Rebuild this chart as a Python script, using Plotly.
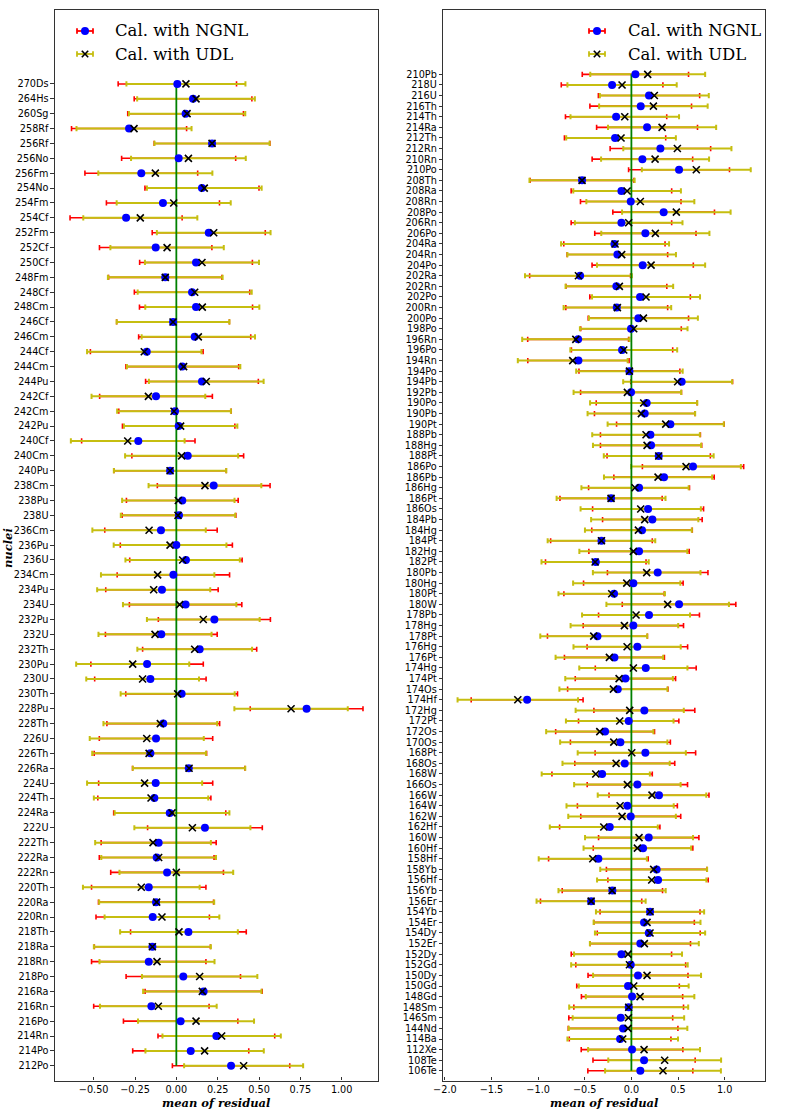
import plotly.graph_objects as go

# ---------------- data: left panel (top -> bottom) ----------------
nuclei_left = ["270Ds","264Hs","260Sg","258Rf","256Rf","256No","256Fm","254No","254Fm","254Cf","252Fm","252Cf","250Cf","248Fm",
               "248Cf","248Cm","246Cf","246Cm","244Cf","244Cm","244Pu","242Cf","242Cm","242Pu","240Cf","240Cm","240Pu","238Cm","238Pu","238U","236Cm","236Pu",
               "236U","234Cm","234Pu","234U","232Pu","232U","232Th","230Pu","230U","230Th","228Pu","228Th","226U","226Th","226Ra","224U","224Th","224Ra",
               "222U","222Th","222Ra","222Rn","220Th","220Ra","220Rn","218Th","218Ra","218Rn","218Po","216Ra","216Rn","216Po","214Rn","214Po","212Po"]
ngnl_mean_left = [0.006,0.101,0.056,-0.286,0.216,0.014,-0.212,0.155,-0.081,-0.304,0.196,-0.125,0.119,-0.067,
                  0.095,0.119,-0.020,0.111,-0.179,0.036,0.155,-0.123,-0.008,0.014,-0.230,0.069,-0.038,0.226,0.036,0.016,-0.093,0.000,
                  0.058,-0.018,-0.087,0.056,0.230,-0.091,0.141,-0.177,-0.157,0.032,0.788,-0.079,-0.123,-0.157,0.075,-0.125,-0.133,-0.040,
                  0.173,-0.107,-0.119,-0.056,-0.167,-0.123,-0.143,0.073,-0.145,-0.167,0.042,0.165,-0.151,0.026,0.242,0.087,0.331]
ngnl_err_left = [0.358,0.356,0.350,0.348,0.350,0.345,0.341,0.345,0.342,0.339,0.342,0.340,0.341,0.343,
                 0.349,0.342,0.341,0.339,0.341,0.341,0.341,0.341,0.340,0.340,0.343,0.338,0.340,0.341,0.338,0.344,0.340,0.339,
                 0.340,0.340,0.340,0.340,0.339,0.338,0.345,0.340,0.337,0.338,0.341,0.341,0.343,0.340,0.340,0.345,0.342,0.339,
                 0.347,0.348,0.347,0.341,0.346,0.348,0.343,0.350,0.351,0.346,0.346,0.354,0.349,0.346,0.353,0.351,0.355]
udl_mean_left = [0.058,0.119,0.065,-0.256,0.216,0.073,-0.127,0.169,-0.016,-0.218,0.226,-0.056,0.155,-0.067,
                 0.111,0.157,-0.020,0.133,-0.194,0.044,0.181,-0.169,-0.014,0.026,-0.294,0.032,-0.038,0.173,0.012,0.010,-0.165,-0.038,
                 0.038,-0.113,-0.137,0.020,0.163,-0.129,0.111,-0.264,-0.204,0.008,0.694,-0.097,-0.179,-0.165,0.077,-0.192,-0.153,-0.026,
                 0.097,-0.141,-0.107,0.000,-0.212,-0.119,-0.087,0.016,-0.145,-0.117,0.141,0.157,-0.109,0.119,0.274,0.171,0.407]
udl_err_left = [0.360,0.356,0.352,0.348,0.348,0.347,0.345,0.347,0.345,0.345,0.344,0.343,0.345,0.347,
                0.345,0.345,0.341,0.343,0.346,0.343,0.347,0.344,0.344,0.343,0.344,0.342,0.340,0.341,0.340,0.346,0.343,0.341,
                0.346,0.343,0.342,0.343,0.341,0.342,0.347,0.342,0.341,0.345,0.343,0.344,0.345,0.344,0.340,0.348,0.346,0.347,
                0.351,0.350,0.347,0.344,0.353,0.348,0.347,0.356,0.354,0.348,0.349,0.358,0.353,0.351,0.358,0.358,0.360]

# ---------------- data: right panel (top -> bottom) ----------------
nuclei_right = ["210Pb","218U","216U","216Th","214Th","214Ra","212Th","212Rn","210Rn","210Po","208Th","208Ra","208Rn","208Po",
                "206Rn","206Po","204Ra","204Rn","204Po","202Ra","202Rn","202Po","200Rn","200Po","198Po","196Rn","196Po","194Rn","194Po","194Pb",
                "192Pb","190Po","190Pb","190Pt","188Pb","188Hg","188Pt","186Po","186Pb","186Hg","186Pt","186Os","184Pb","184Hg","184Pt","182Hg",
                "182Pt","180Pb","180Hg","180Pt","180W","178Pb","178Hg","178Pt","176Hg","176Pt","174Hg","174Pt","174Os","174Hf","172Hg","172Pt",
                "172Os","170Os","168Pt","168Os","168W","166Os","166W","164W","162W","162Hf","160W","160Hf","158Hf","158Yb","156Hf","156Yb",
                "156Er","154Yb","154Er","154Dy","152Er","152Dy","152Gd","150Dy","150Gd","148Gd","148Sm","146Sm","144Nd","114Ba","112Xe","108Te","106Te"]
ngnl_mean_right = [0.043,-0.207,0.189,0.100,-0.164,0.168,-0.175,0.311,0.118,0.511,-0.529,-0.107,-0.007,0.346,
                   -0.107,0.150,-0.182,-0.150,0.121,-0.550,-0.161,0.093,-0.157,0.075,-0.004,-0.571,-0.100,-0.568,-0.021,0.539,
                   -0.004,0.164,0.143,0.418,0.204,0.211,0.293,0.661,0.350,0.082,-0.218,0.179,0.225,0.114,-0.321,0.082,
                   -0.382,0.282,0.021,-0.186,0.511,0.189,0.021,-0.364,0.064,-0.182,0.154,-0.064,-0.146,-1.118,0.139,-0.029,
                   -0.282,-0.118,0.150,-0.071,-0.314,0.064,0.296,-0.043,-0.007,-0.232,0.186,0.125,-0.354,0.271,0.286,-0.204,
                   -0.432,0.200,0.136,0.186,0.096,-0.107,-0.007,0.071,-0.036,0.007,-0.029,-0.114,-0.089,-0.121,0.007,0.136,0.096]
ngnl_err_right = [0.570,0.545,0.543,0.545,0.543,0.541,0.543,0.539,0.539,0.541,0.557,0.539,0.539,0.545,
                  0.539,0.543,0.543,0.539,0.543,0.541,0.541,0.539,0.546,0.538,0.539,0.541,0.543,0.543,0.541,0.546,
                  0.541,0.541,0.539,0.577,0.536,0.543,0.554,0.543,0.538,0.541,0.548,0.595,0.534,0.539,0.545,0.538,
                  0.539,0.539,0.534,0.538,0.609,0.541,0.538,0.536,0.539,0.536,0.541,0.538,0.538,0.600,0.541,0.538,
                  0.530,0.536,0.539,0.536,0.538,0.538,0.536,0.536,0.536,0.538,0.538,0.534,0.534,0.539,0.538,0.538,
                  0.543,0.536,0.539,0.552,0.538,0.538,0.589,0.536,0.550,0.543,0.588,0.557,0.588,0.545,0.545,0.548,0.563]
udl_mean_right = [0.175,-0.100,0.246,0.236,-0.071,0.329,-0.111,0.493,0.254,0.696,-0.529,-0.046,0.096,0.482,
                  -0.029,0.257,-0.175,-0.104,0.211,-0.568,-0.129,0.157,-0.150,0.129,0.025,-0.596,-0.082,-0.629,-0.021,0.496,
                  -0.043,0.132,0.107,0.368,0.157,0.168,0.293,0.586,0.286,0.039,-0.218,0.100,0.143,0.075,-0.321,0.021,
                  -0.389,0.164,-0.050,-0.211,0.389,0.050,-0.075,-0.404,-0.046,-0.236,0.021,-0.132,-0.193,-1.218,-0.018,-0.125,
                  -0.339,-0.189,0.004,-0.164,-0.382,-0.043,0.221,-0.121,-0.100,-0.296,0.082,0.064,-0.414,0.239,0.218,-0.207,
                  -0.432,0.200,0.168,0.200,0.139,-0.036,-0.021,0.168,0.025,0.093,-0.029,-0.032,-0.036,-0.093,0.136,0.357,0.339]
udl_err_right = [0.616,0.586,0.584,0.582,0.582,0.580,0.588,0.580,0.579,0.584,0.564,0.577,0.579,0.582,
                 0.577,0.580,0.579,0.582,0.580,0.573,0.577,0.579,0.577,0.584,0.577,0.575,0.573,0.589,0.571,0.584,
                 0.577,0.575,0.577,0.623,0.577,0.580,0.589,0.588,0.580,0.575,0.584,0.645,0.575,0.573,0.577,0.579,
                 0.575,0.577,0.575,0.571,0.657,0.579,0.577,0.573,0.575,0.577,0.580,0.577,0.579,0.646,0.580,0.577,
                 0.575,0.575,0.580,0.575,0.580,0.571,0.582,0.575,0.577,0.579,0.579,0.577,0.580,0.573,0.586,0.575,
                 0.585,0.580,0.573,0.591,0.584,0.579,0.625,0.579,0.589,0.582,0.638,0.598,0.636,0.593,0.600,0.605,0.621]

left_xticks = [-0.50, -0.25, 0.00, 0.25, 0.50, 0.75, 1.00]
right_xticks = [-2.0, -1.5, -1.0, -0.5, 0.0, 0.5, 1.0]
legend_labels = ["Cal. with NGNL", "Cal. with UDL"]
x_title = "mean of residual"
y_title = "nuclei"

# ---------------- styling ----------------
W, H = 789, 1114
RED = "#ff0000"
BLUE = "#0000ff"
YEL = "rgb(198,190,16)"
GREEN = "#008000"
TICKFONT = dict(family="DejaVu Sans", size=9.7, color="black")
SERIF = "DejaVu Serif"

fig = go.Figure()


def add_panel(names, m1, e1, m2, e2, xa, ya):
    n = len(names)
    ys = [n - 1 - i for i in range(n)]
    common = dict(xaxis=xa, yaxis=ya, showlegend=False, hoverinfo="skip")
    # NGNL error bars (red)
    fig.add_trace(go.Scatter(x=m1, y=ys, mode="markers",
                             marker=dict(size=2, color="rgba(0,0,0,0)"),
                             error_x=dict(type="data", array=e1, color=RED, thickness=1.6, width=2.6),
                             **common))
    # UDL error bars (yellow)
    fig.add_trace(go.Scatter(x=m2, y=ys, mode="markers",
                             marker=dict(size=2, color="rgba(0,0,0,0)"),
                             error_x=dict(type="data", array=e2, color=YEL, thickness=2.0, width=2.6),
                             **common))
    # zero line
    fig.add_trace(go.Scatter(x=[0, 0], y=[ys[-1], ys[0]], mode="lines",
                             line=dict(color=GREEN, width=1.8), **common))
    # NGNL markers
    fig.add_trace(go.Scatter(x=m1, y=ys, mode="markers",
                             marker=dict(size=8, color=BLUE, line=dict(width=0)), **common))
    # UDL markers
    fig.add_trace(go.Scatter(x=m2, y=ys, mode="markers",
                             marker=dict(symbol="x-thin", size=7, color="black",
                                         line=dict(width=1.6, color="black")), **common))
    return ys


ys_left = add_panel(nuclei_left, ngnl_mean_left, ngnl_err_left, udl_mean_left, udl_err_left, "x", "y")
ys_right = add_panel(nuclei_right, ngnl_mean_right, ngnl_err_right, udl_mean_right, udl_err_right, "x2", "y2")


def fmt(v, d):
    return (f"{v:.{d}f}").replace("-", "\u2212")


def px(x):
    return x / W


def py(y):
    return 1 - y / H


axis_common = dict(showline=True, mirror=True, linecolor="#333333", linewidth=1.1,
                   showgrid=False, zeroline=False, tickfont=TICKFONT, automargin=False,
                   tickcolor="#333333", ticklen=3.5, tickwidth=1)

fig.update_layout(
    width=W, height=H,
    margin=dict(l=0, r=0, t=0, b=0, autoexpand=False),
    paper_bgcolor="white", plot_bgcolor="white",
    xaxis=dict(domain=[px(55), px(377.7)], range=[-0.734, 1.218], anchor="y",
               tickmode="array", tickvals=left_xticks, ticktext=[fmt(v, 2) for v in left_xticks],
               ticks="inside", **axis_common),
    yaxis=dict(domain=[py(1080.5), py(10)], range=[-0.99, 70.97], anchor="x",
               tickmode="array", tickvals=ys_left, ticktext=nuclei_left,
               ticks="outside", **axis_common),
    xaxis2=dict(domain=[px(443.3), px(765.3)], range=[-2.017, 1.436], anchor="y2",
                tickmode="array", tickvals=right_xticks, ticktext=[fmt(v, 1) for v in right_xticks],
                ticks="inside", **axis_common),
    yaxis2=dict(domain=[py(1080.5), py(10)], range=[-0.915, 100.07], anchor="x2",
                tickmode="array", tickvals=ys_right, ticktext=nuclei_right,
                ticks="outside", **axis_common),
)

title_font = dict(family=SERIF, size=11.5, color="black", weight="bold", style="italic")
annotations = [
    dict(text=x_title, x=px((55 + 377.7) / 2), y=py(1103), xref="paper", yref="paper",
         showarrow=False, font=title_font, xanchor="center", yanchor="middle"),
    dict(text=x_title, x=px((443.3 + 765.3) / 2), y=py(1103), xref="paper", yref="paper",
         showarrow=False, font=title_font, xanchor="center", yanchor="middle"),
    dict(text=y_title, x=px(8), y=py(548), xref="paper", yref="paper", textangle=-90,
         showarrow=False, font=title_font, xanchor="center", yanchor="middle"),
]

# ---------------- legends (drawn as decoration) ----------------
shapes = []


def legend_block(x_line0, x_text, y1, y2):
    xc = x_line0 + 8
    # NGNL entry: red bar with caps, blue dot
    shapes.append(dict(type="line", xref="paper", yref="paper", x0=px(x_line0), x1=px(x_line0 + 16),
                       y0=py(y1), y1=py(y1), line=dict(color=RED, width=1.8)))
    for xx in (x_line0, x_line0 + 16):
        shapes.append(dict(type="line", xref="paper", yref="paper", x0=px(xx), x1=px(xx),
                           y0=py(y1 - 2.8), y1=py(y1 + 2.8), line=dict(color=RED, width=1.8)))
    shapes.append(dict(type="circle", xref="paper", yref="paper", x0=px(xc - 4), x1=px(xc + 4),
                       y0=py(y1 - 4), y1=py(y1 + 4), fillcolor=BLUE, line=dict(width=0)))
    # UDL entry: yellow bar with caps, black x
    shapes.append(dict(type="line", xref="paper", yref="paper", x0=px(x_line0), x1=px(x_line0 + 16),
                       y0=py(y2), y1=py(y2), line=dict(color=YEL, width=1.8)))
    for xx in (x_line0, x_line0 + 16):
        shapes.append(dict(type="line", xref="paper", yref="paper", x0=px(xx), x1=px(xx),
                           y0=py(y2 - 2.8), y1=py(y2 + 2.8), line=dict(color=YEL, width=1.8)))
    for s in (-1, 1):
        shapes.append(dict(type="line", xref="paper", yref="paper", x0=px(xc - 3.2), x1=px(xc + 3.2),
                           y0=py(y2 - 3.2 * s), y1=py(y2 + 3.2 * s), line=dict(color="black", width=1.6)))
    for txt, yy in zip(legend_labels, (y1, y2)):
        annotations.append(dict(text=txt, x=px(x_text), y=py(yy), xref="paper", yref="paper",
                                showarrow=False, xanchor="left", yanchor="middle",
                                font=dict(family=SERIF, size=16.5, color="black")))


legend_block(77, 113, 31, 54)
legend_block(589, 625.5, 31, 54)

fig.update_layout(annotations=annotations, shapes=shapes)

# remove the default page margin so the figure sits at the window's top-left corner
fig.write_html("out.html", config={"displayModeBar": False},
               post_script="document.body.style.margin='0px';")
